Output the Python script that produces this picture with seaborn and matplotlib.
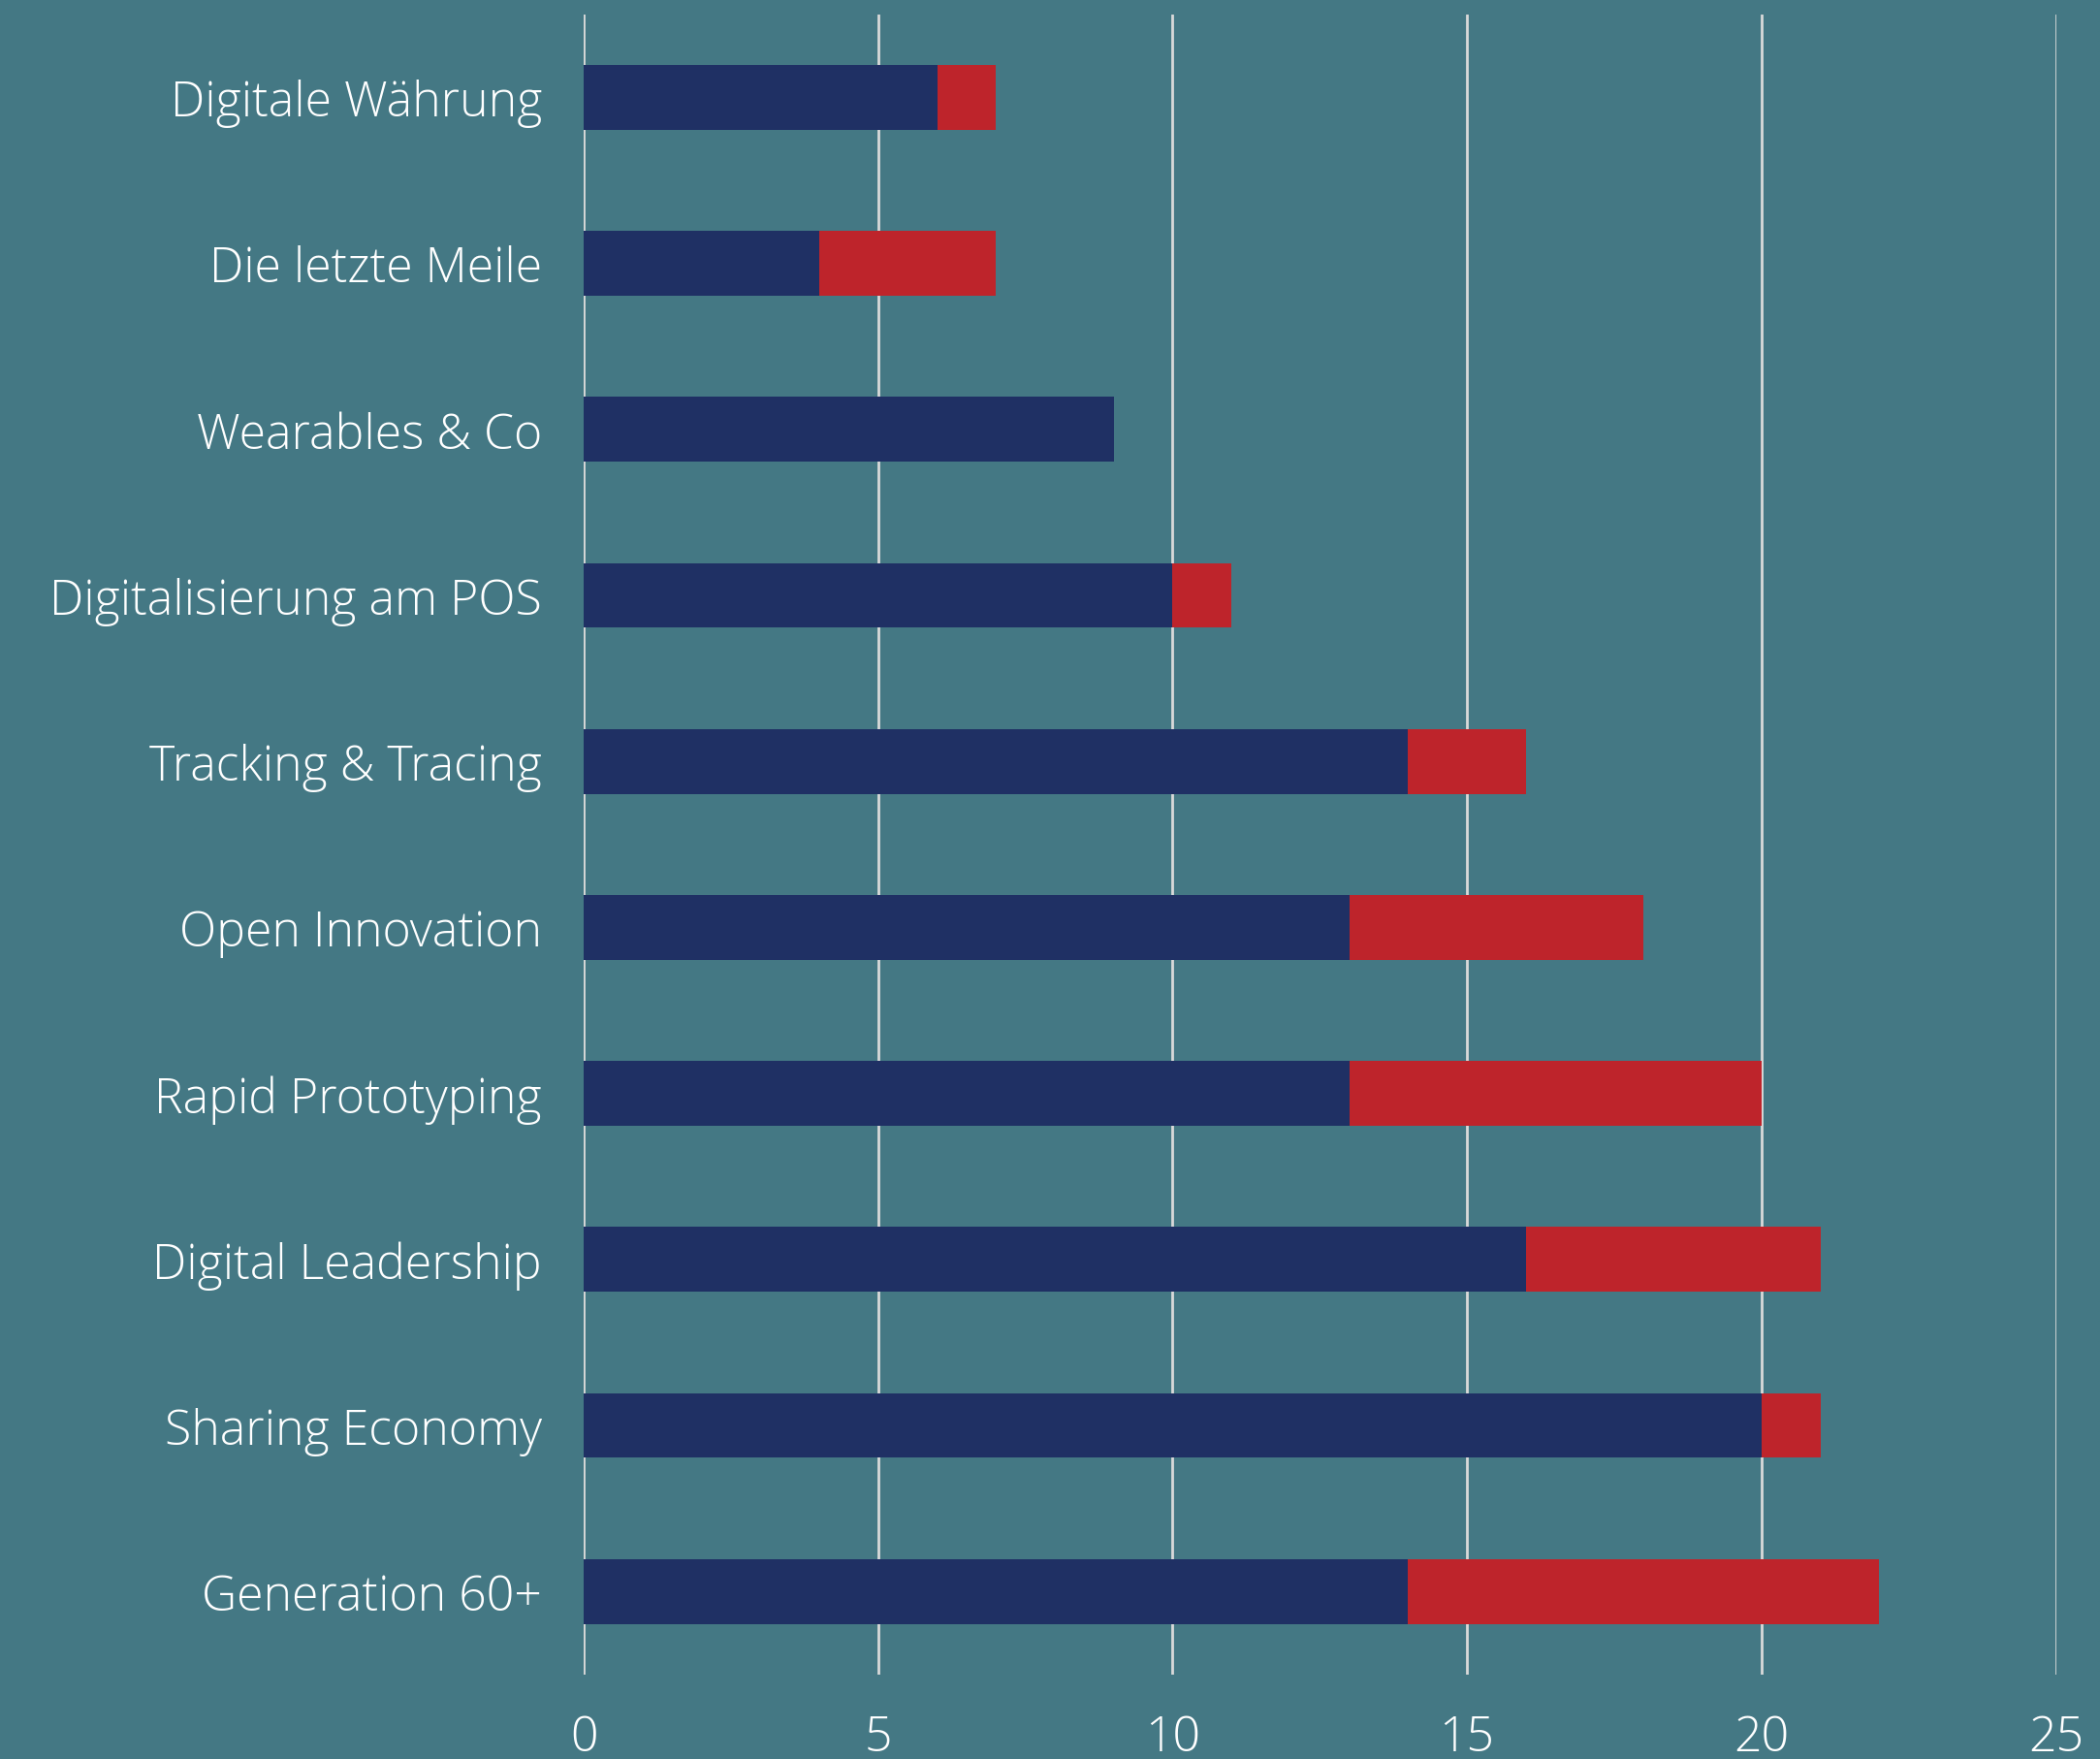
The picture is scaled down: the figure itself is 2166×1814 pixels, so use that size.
import matplotlib
matplotlib.use("Agg")
import matplotlib.pyplot as plt
import seaborn as sns
import pandas as pd

categories = [
    "Digitale Währung",
    "Die letzte Meile",
    "Wearables & Co",
    "Digitalisierung am POS",
    "Tracking & Tracing",
    "Open Innovation",
    "Rapid Prototyping",
    "Digital Leadership",
    "Sharing Economy",
    "Generation 60+",
]
blue_values = [6, 4, 9, 10, 14, 13, 13, 16, 20, 14]
red_values = [1, 3, 0, 1, 2, 5, 7, 5, 1, 8]
x_ticks = [0, 5, 10, 15, 20, 25]

bg = "#447884"
navy = "#1F3064"
red = "#BE242B"

df = pd.DataFrame({
    "Kategorie": categories,
    "blau": blue_values,
    "rot": red_values,
})
df["gesamt"] = df["blau"] + df["rot"]

sns.set_style("white")
plt.rcParams["font.family"] = ["Open Sans", "DejaVu Sans"]

fig = plt.figure(figsize=(21.66, 18.15), dpi=100, facecolor=bg)
ax = fig.add_axes([0.278, 0.048, 0.701, 0.9434])
ax.set_facecolor(bg)

# total first (red), then blue part on top
sns.barplot(data=df, x="gesamt", y="Kategorie", color=red, width=0.39,
            saturation=1, orient="h", ax=ax, zorder=3, linewidth=0)
sns.barplot(data=df, x="blau", y="Kategorie", color=navy, width=0.39,
            saturation=1, orient="h", ax=ax, zorder=4, linewidth=0)

ax.set_xlim(0, 25)
ax.set_ylim(9.5, -0.5)
ax.set_xticks(x_ticks)
ax.set_xticklabels([str(t) for t in x_ticks])
ax.xaxis.grid(True, color="#D9D9D9", linewidth=2.0, zorder=1)
ax.yaxis.grid(False)
ax.set_axisbelow(True)
for s in ax.spines.values():
    s.set_visible(False)

ax.tick_params(axis="both", length=0, colors="white", labelsize=36)
ax.tick_params(axis="y", pad=31)
ax.tick_params(axis="x", pad=29)
for lbl in ax.get_xticklabels() + ax.get_yticklabels():
    lbl.set_fontweight("light")
ax.set_xlabel("")
ax.set_ylabel("")

fig.savefig("out.png", dpi=100, facecolor=bg)
